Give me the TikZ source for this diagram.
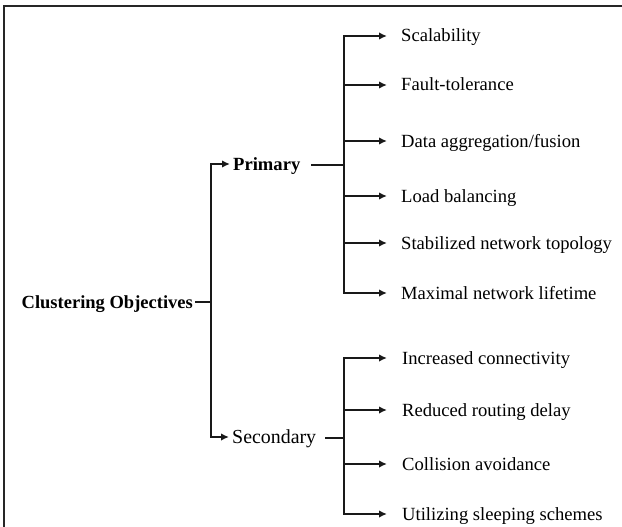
\documentclass[tikz,border=0pt]{standalone}
\usepackage{fontspec}
\setmainfont{Liberation Serif}
\usetikzlibrary{arrows.meta}
\begin{document}
\begin{tikzpicture}[x=1pt,y=-1pt,
  line/.style={line width=2.2pt, draw=black!90, line cap=rect},
  arr/.style={line width=2.2pt, draw=black!90, -{Latex[length=8pt,width=7.5pt]}},
  txt/.style={inner sep=0pt, text height=12pt, text depth=0pt, text=black},
  leaf/.style={txt, anchor=west, font=\fontsize{18.6pt}{20pt}\selectfont},
  rootn/.style={txt, anchor=east, font=\fontsize{18.5pt}{20pt}\selectfont\bfseries},
  midb/.style={txt, anchor=west, font=\fontsize{18.6pt}{20pt}\selectfont\bfseries},
  midr/.style={txt, anchor=west, font=\fontsize{19.9pt}{21pt}\selectfont}]
\useasboundingbox (0,0) rectangle (622,527);
\fill[white] (0,0) rectangle (622,527);
\draw[line width=2pt, black!85] (3,6.5) -- (622,6.5);
\draw[line width=2pt, black!85] (4,6) -- (4,527);

% root and trunk
\node[rootn] (root) at (193,302) {Clustering Objectives};
\coordinate (tt) at (211,164);
\coordinate (tm) at (211,302);
\coordinate (tb) at (211,437);
\draw[line] ([xshift=3pt]root.east) -- (tm);
\draw[line] (tt) -- (tb);

\node[midb] (pri) at (233,164) {Primary};
\node[midr] (sec) at (232,437) {Secondary};
\draw[arr] (tt) -- ([xshift=-3pt]pri.west);
\draw[arr] (tb) -- ([xshift=-3pt]sec.west);

% primary branch
\coordinate (pm) at (344,165);
\draw[line] ([xshift=12pt]pri.east |- pm) -- (pm);
\foreach \n/\y/\t in {1/36/{Scalability}, 2/85/{Fault-tolerance}, 3/141/{Data aggregation/fusion},
   4/196/{Load balancing}, 5/243/{Stabilized network topology}, 6/293/{Maximal network lifetime}}{
  \coordinate (p\n) at (344,\y);
  \node[leaf] (pl\n) at (401,\y) {\t};
  \draw[arr] (p\n) -- ([xshift=-14pt]pl\n.west);
}
\draw[line] (p1) -- (p6);

% secondary branch
\coordinate (sm) at (344,438);
\draw[line] ([xshift=10pt]sec.east |- sm) -- (sm);
\foreach \n/\y/\t in {1/358/{Increased connectivity}, 2/410/{Reduced routing delay},
   3/464/{Collision avoidance}, 4/514/{Utilizing sleeping schemes}}{
  \coordinate (s\n) at (344,\y);
  \node[leaf] (sl\n) at (402,\y) {\t};
  \draw[arr] (s\n) -- ([xshift=-15pt]sl\n.west);
}
\draw[line] (s1) -- (s4);
\end{tikzpicture}
\end{document}
